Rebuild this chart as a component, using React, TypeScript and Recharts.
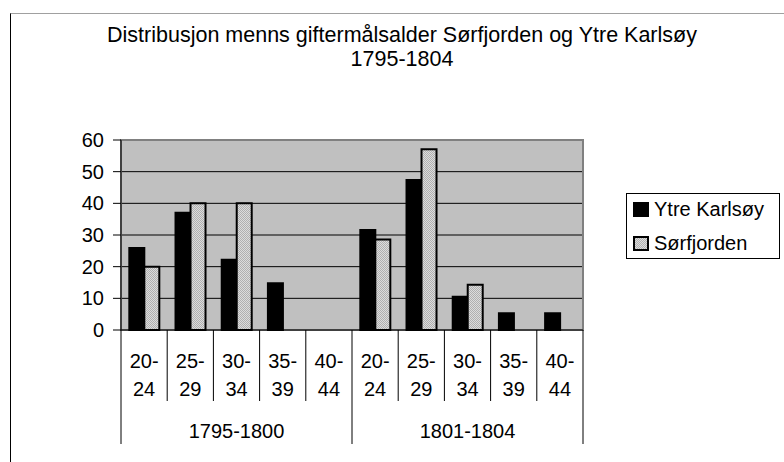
import React from 'react';
import { BarChart, Bar, XAxis, YAxis, CartesianGrid, Legend, ReferenceArea } from 'recharts';

const PERIODS = ['1795-1800', '1801-1804'];
const AGE_GROUPS = ['20-24', '25-29', '30-34', '35-39', '40-44'];
const YTRE_KARLSOY = [
  [25.9, 37.0, 22.2, 14.8, 0],
  [31.6, 47.4, 10.5, 5.3, 5.3],
];
const SORFJORDEN = [
  [20, 40, 40, 0, 0],
  [28.6, 57.1, 14.3, 0, 0],
];
const SERIES_ORDER = ['ytre', 'sor'];
const Y_TICKS = [0, 10, 20, 30, 40, 50, 60];

const data = PERIODS.flatMap((period, p) =>
  AGE_GROUPS.map((age, a) => ({
    key: `${period} ${age}`,
    period,
    age,
    ytre: YTRE_KARLSOY[p][a],
    sor: SORFJORDEN[p][a],
  }))
);

const FONT = '"Liberation Sans", Arial, sans-serif';

// label of one age group plus the cell borders of the two-level axis
function AgeTick({ x, y, payload, width, visibleTicksCount, index }: any) {
  const row = data.find((d) => d.key === payload.value);
  if (!row) return null;
  const [from, to] = row.age.split('-');
  const half =
    payload && payload.offset > 0 ? payload.offset : width / (visibleTicksCount || data.length) / 2;
  const i = typeof index === 'number' ? index : data.indexOf(row);
  const groupStart = i % AGE_GROUPS.length === 0;
  const isLast = i === data.length - 1;
  return (
    <g>
      <line x1={x - half} x2={x - half} y1={y} y2={y + (groupStart ? 114 : 71)} stroke="#000" />
      {isLast && <line x1={x + half} x2={x + half} y1={y} y2={y + 114} stroke="#000" />}
      <text x={x} y={y} textAnchor="middle" fontSize={20} fill="#000" fontFamily={FONT}>
        <tspan x={x} dy={38}>{from}-</tspan>
        <tspan x={x} dy={28}>{to}</tspan>
      </text>
    </g>
  );
}

function PeriodTick({ x, y, payload }: any) {
  return (
    <text x={x} y={y} dy={107} textAnchor="middle" fontSize={20} fill="#000" fontFamily={FONT}>
      {payload.value}
    </text>
  );
}

const renderLegend = ({ payload }: any) => {
  const items = [...(payload || [])].sort(
    (a: any, b: any) => SERIES_ORDER.indexOf(a.dataKey) - SERIES_ORDER.indexOf(b.dataKey)
  );
  return (
    <div
      style={{
        position: 'relative',
        width: 154,
        height: 66,
        boxSizing: 'border-box',
        border: '1px solid #000',
        background: '#fff',
        fontFamily: FONT,
        fontSize: 20,
        color: '#000',
      }}
    >
      {items.map((entry: any, i: number) => (
        <div
          key={entry.value}
          style={{
            position: 'absolute',
            left: 6,
            top: -2 + i * 34,
            height: 34,
            display: 'flex',
            alignItems: 'center',
            whiteSpace: 'nowrap',
          }}
        >
          <svg width={16} height={15} style={{ marginRight: 5 }}>
            <rect x={1} y={1} width={14} height={13} fill={entry.color} stroke="#000" strokeWidth={2} />
          </svg>
          <span>{entry.value}</span>
        </div>
      ))}
    </div>
  );
};

export default function App() {
  return (
    <div
      style={{
        position: 'absolute',
        left: 0,
        top: 0,
        width: 784,
        height: 462,
        overflow: 'hidden',
        background: '#fff',
        fontFamily: FONT,
      }}
    >
      <div
        style={{
          position: 'absolute',
          left: 10,
          top: 13,
          width: 800,
          height: 500,
          borderLeft: '1px solid #000',
          borderTop: '1px solid #a0a0a0',
        }}
      />
      <div
        style={{
          position: 'absolute',
          left: 0,
          top: 23,
          width: 804,
          textAlign: 'center',
          fontSize: 21.5,
          lineHeight: '24px',
          color: '#000',
        }}
      >
        Distribusjon menns giftermålsalder Sørfjorden og Ytre Karlsøy
        <br />
        1795-1804
      </div>
      <BarChart
        width={784}
        height={462}
        data={data}
        margin={{ top: 140, right: 201, bottom: 130, left: 61 }}
        barCategoryGap="18%"
        barGap={0}
        style={{ position: 'absolute', left: 0, top: 0 }}
      >
        <defs>
          <pattern id="sorPattern" width="2" height="2" patternUnits="userSpaceOnUse">
            <rect width="2" height="2" fill="#dcdcdc" />
            <rect x="0" y="0" width="1" height="1" fill="#b0b0b0" />
            <rect x="1" y="1" width="1" height="1" fill="#b0b0b0" />
          </pattern>
        </defs>
        <CartesianGrid vertical={false} stroke="#000" fill="#c0c0c0" fillOpacity={1} />
        <ReferenceArea y1={0} y2={60} fill="none" stroke="#808080" strokeWidth={2} />
        <YAxis
          domain={[0, 60]}
          ticks={Y_TICKS}
          width={60}
          tickSize={8}
          tickMargin={9}
          axisLine={{ stroke: '#000' }}
          tickLine={{ stroke: '#000' }}
          tick={{ fill: '#000', fontSize: 20, fontFamily: FONT }}
        />
        <XAxis
          dataKey="key"
          height={1}
          interval={0}
          tickSize={0}
          tickMargin={0}
          tickLine={false}
          axisLine={{ stroke: '#000' }}
          tick={<AgeTick />}
        />
        <XAxis
          xAxisId="period"
          dataKey="period"
          allowDuplicatedCategory={false}
          interval={0}
          height={1}
          tickSize={0}
          tickMargin={0}
          tickLine={false}
          axisLine={false}
          tick={<PeriodTick />}
        />
        <Legend
          layout="horizontal"
          verticalAlign="middle"
          align="center"
          content={renderLegend}
          wrapperStyle={{ position: 'absolute', left: 626, top: 193, width: 154, height: 66 }}
        />
        <Bar
          dataKey="ytre"
          name="Ytre Karlsøy"
          fill="#000"
          stroke="#000"
          strokeWidth={2}
          isAnimationActive={false}
        />
        <Bar
          dataKey="sor"
          name="Sørfjorden"
          fill="url(#sorPattern)"
          stroke="#000"
          strokeWidth={2}
          isAnimationActive={false}
        />
      </BarChart>
    </div>
  );
}
